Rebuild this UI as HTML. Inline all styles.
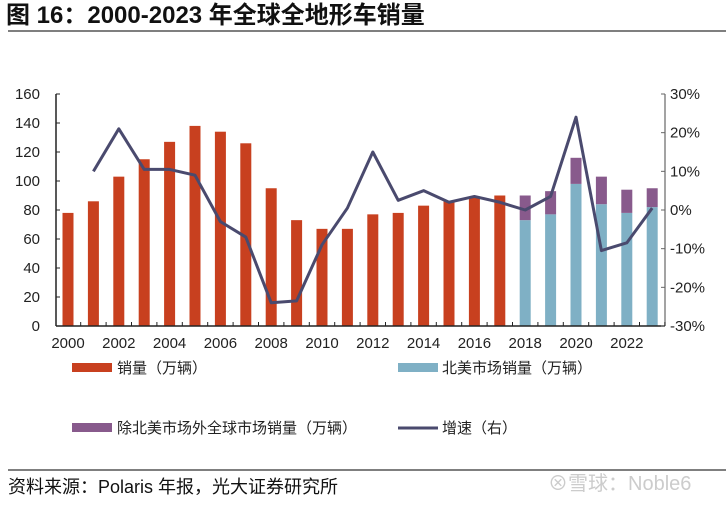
<!DOCTYPE html>
<html><head><meta charset="utf-8"><style>
body{margin:0;background:#fff;width:726px;height:500px;overflow:hidden;font-family:"Liberation Sans","Noto Sans CJK SC",sans-serif;}
svg text{font-family:"Liberation Sans","Noto Sans CJK SC",sans-serif;}
</style></head><body>
<svg width="726" height="500">
<text x="6" y="23" font-size="24" font-weight="bold" fill="#111">图 16：2000-2023 年全球全地形车销量</text>
<line x1="8" y1="31" x2="726" y2="31" stroke="#555" stroke-width="1.5"/>
<g id="plot"></g>
<g font-size="15" fill="#222">
<rect x="72" y="363" width="40" height="9" fill="#c8401f"/>
<text x="117" y="373">销量（万辆）</text>
<rect x="398" y="363" width="40" height="9" fill="#7fb0c5"/>
<text x="442" y="373">北美市场销量（万辆）</text>
<rect x="72" y="423" width="40" height="9" fill="#885a8c"/>
<text x="117" y="433">除北美市场外全球市场销量（万辆）</text>
<line x1="398" y1="428" x2="438" y2="428" stroke="#4a4a6e" stroke-width="3"/>
<text x="442" y="433">增速（右）</text>
</g>
<line x1="8" y1="470" x2="726" y2="470" stroke="#555" stroke-width="1.5"/>
<text x="8" y="493" font-size="18" fill="#111">资料来源：Polaris 年报，光大证券研究所</text>
<text x="548" y="490" font-size="20" fill="#ccc">⊗雪球：Noble6</text>
</svg>
<script>
const years=[2000,2001,2002,2003,2004,2005,2006,2007,2008,2009,2010,2011,2012,2013,2014,2015,2016,2017,2018,2019,2020,2021,2022,2023];
const totalSales=[78,86,103,115,127,138,134,126,95,73,67,67,77,78,83,86,89,90,90,93,116,103,94,95];
const naSales=[null,null,null,null,null,null,null,null,null,null,null,null,null,null,null,null,null,null,73,77,98,84,78,82];
const growth=[null,10,21,10.5,10.5,9,-3,-7,-24,-23.5,-9,0.5,15,2.5,5,2,3.5,2,0,3.5,24,-10.5,-8.5,0.5];
const leftTicks=[0,20,40,60,80,100,120,140,160];
const rightTicks=[-30,-20,-10,0,10,20,30];
const xLabels=[2000,2002,2004,2006,2008,2010,2012,2014,2016,2018,2020,2022];
const NS="http://www.w3.org/2000/svg";
const g=document.getElementById('plot');
const X0=56,X1=665,Y0=326,Y1=94;
const xc=i=>68+i*25.4;
const yL=v=>Y0-(v/160)*(Y0-Y1);
const yR=v=>Y0-((v+30)/60)*(Y0-Y1);
function el(t,a){const e=document.createElementNS(NS,t);for(const k in a)e.setAttribute(k,a[k]);g.appendChild(e);return e;}
years.forEach((y,i)=>{
  const w=11;
  if(naSales[i]==null){
    const r=el('rect',{x:xc(i)-w/2,y:yL(totalSales[i]),width:w,height:Y0-yL(totalSales[i]),fill:'#c8401f'});
    
    
  } else {
    const a=el('rect',{x:xc(i)-w/2,y:yL(naSales[i]),width:w,height:Y0-yL(naSales[i]),fill:'#7fb0c5'});
    
    
    const b=el('rect',{x:xc(i)-w/2,y:yL(totalSales[i]),width:w,height:yL(naSales[i])-yL(totalSales[i]),fill:'#885a8c'});
    
    
  }
});
let ax=el('line',{x1:X0,y1:Y1,x2:X0,y2:Y0,stroke:'#222','stroke-width':1.5});


ax=el('line',{x1:X1,y1:Y1,x2:X1,y2:Y0,stroke:'#666','stroke-width':1.2});


ax=el('line',{x1:X0,y1:Y0,x2:X1,y2:Y0,stroke:'#222','stroke-width':1.5});


leftTicks.forEach(v=>{
  el('line',{x1:X0,y1:yL(v),x2:X0+4,y2:yL(v),stroke:'#222'});
  const t=el('text',{x:X0-16,y:yL(v)+5,'font-size':15,'text-anchor':'end',fill:'#222'});t.textContent=v;
  
  
});
rightTicks.forEach(v=>{
  el('line',{x1:X1,y1:yR(v),x2:X1-4,y2:yR(v),stroke:'#666'});
  const t=el('text',{x:X1+5,y:yR(v)+5,'font-size':15,fill:'#222'});t.textContent=v+'%';
  
  
});
years.forEach((y,i)=>{el('line',{x1:xc(i)+12.7,y1:Y0,x2:xc(i)+12.7,y2:Y0-4,stroke:'#222'});});
xLabels.forEach(y=>{
  const i=years.indexOf(y);
  const t=el('text',{x:xc(i),y:Y0+22,'font-size':15,'text-anchor':'middle',fill:'#222'});t.textContent=y;
  
  
});
let d='';
growth.forEach((v,i)=>{if(v==null)return;d+=(d?'L':'M')+xc(i)+','+yR(v);});
const p=el('path',{d:d,fill:'none',stroke:'#4a4a6e','stroke-width':3,'stroke-linejoin':'round'});


</script>
</body></html>
